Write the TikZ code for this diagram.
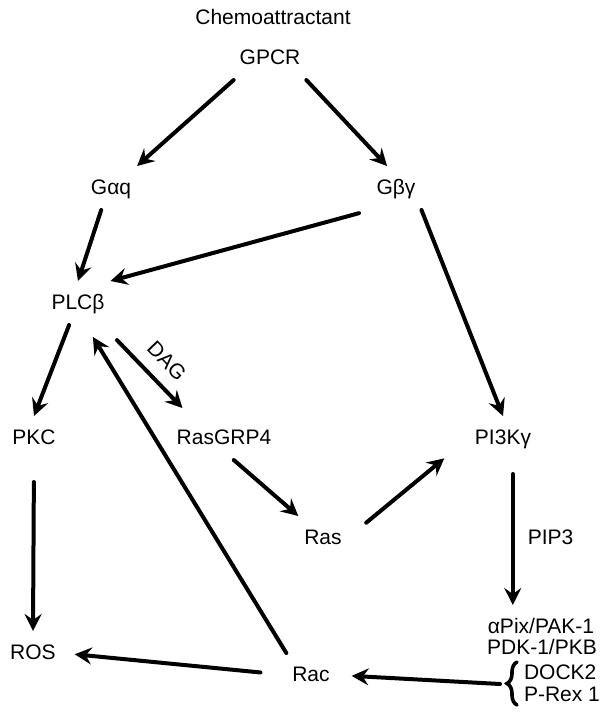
\documentclass[tikz,border=0pt]{standalone}
\usepackage{fontspec}
\setmainfont{Liberation Sans}
\usetikzlibrary{arrows.meta,decorations.pathreplacing}

\begin{document}
\begin{tikzpicture}[x=0.5pt, y=-0.5pt, line width=2pt, line cap=round,
	>={Stealth[length=8.5pt, width=8.5pt, inset=3pt]},
	mol/.style={font=\fontsize{10.5}{12}\selectfont, inner xsep=2pt, inner ysep=5pt,
		text height=8pt, text depth=2pt},
	tag/.style={font=\fontsize{10.5}{12}\selectfont, inner sep=1pt,
		text height=8pt, text depth=2pt}]

\useasboundingbox (0,0) rectangle (602,720);

% The molecules
\node[mol] (chemo)  at (273, 18)  {Chemoattractant};
\node[mol] (gpcr)   at (270, 58)  {GPCR};
\node[mol] (gaq)    at (111, 188) {Gαq};
\node[mol] (gby)    at (396, 188) {Gβγ};
\node[mol] (plc)    at (78, 303)  {PLCβ};
\node[mol] (pkc)    at (34, 438)  {PKC};
\node[mol] (rasgrp) at (224, 438) {RasGRP4};
\node[mol] (pi3k)   at (503, 438) {PI3Kγ};
\node[mol] (ras)    at (323, 538) {Ras};
\node[mol] (ros)    at (33, 653)  {ROS};
\node[mol] (rac)    at (311, 675) {Rac};
\node[mol] (apix)   at (541, 627) {αPix/PAK-1};
\node[mol] (pdk)    at (542, 648) {PDK-1/PKB};
\node[mol, anchor=west] (dock) at (518, 673) {DOCK2};
\node[mol, anchor=west] (prex) at (518, 695) {P-Rex 1};

% GEF brace
\draw[line width=1.8pt, decorate, decoration={brace, amplitude=5pt}]
	([xshift=-0.5pt, yshift=-5pt]prex.west) -- ([xshift=-0.5pt, yshift=5.5pt]dock.west);
\coordinate (gef) at (500, 684);

% Signalling
\draw[->] (gpcr.south west) -- (gaq.north east);
\draw[->] (gpcr.south east) -- (gby.112);
\draw[->] (gaq.-114) -- (plc.north);
\draw[->, shorten <=6pt] (gby.south west) -- (plc.north east);
\draw[->] (gby.south east) -- (pi3k.north);
\draw[->] (plc.-112) -- (pkc.north);
\draw[->, shorten <=10.5pt, shorten >=5.5pt] (plc.-42) -- (rasgrp.147)
	node[tag, pos=0.56, sloped, above=3pt] {DAG};
\draw[->, shorten <=11pt] (pkc.south) -- (ros.north);
\draw[->] (rasgrp.-66) -- (ras.north west);
\draw[->, shorten <=12pt, shorten >=16pt] (ras.east) -- (pi3k.west);
\draw[->, shorten <=7pt] (pi3k.-66) -- (pi3k.-66 |- apix.north)
	node[tag, pos=0.54, right=5.5pt] {PIP3};
\draw[->, shorten >=8pt] (gef) -- (rac.east);
\draw[->, shorten <=13pt, shorten >=6.5pt] (rac.west) -- (ros.east);
\draw[->, shorten >=7pt] (rac.north west) -- (plc.-71);
\end{tikzpicture}
\end{document}
